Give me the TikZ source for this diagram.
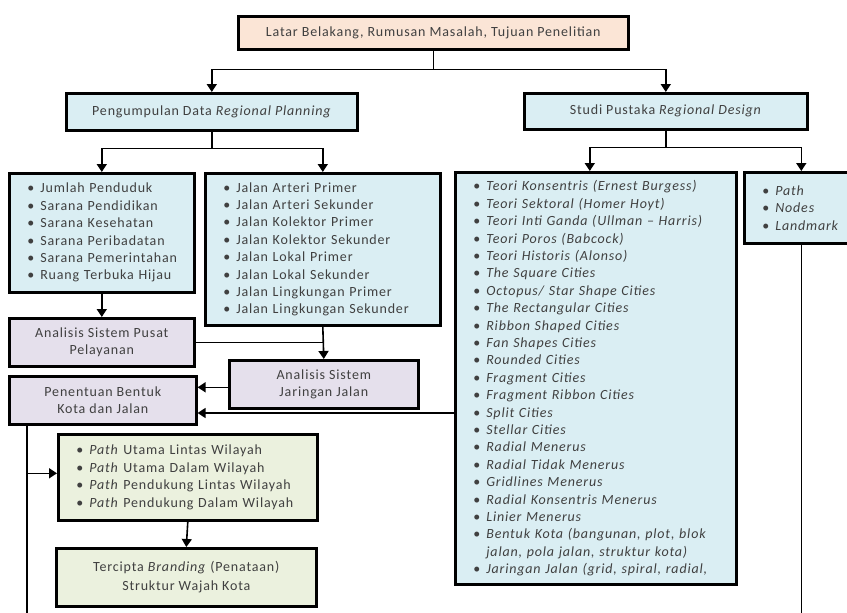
\documentclass[tikz,border=0pt]{standalone}
\usepackage{fontspec}
\setmainfont{Carlito}[LetterSpace=6]
\usetikzlibrary{arrows.meta,calc}
\definecolor{peach}{HTML}{FBE5D6}
\definecolor{lblue}{HTML}{DAEEF3}
\definecolor{lpurple}{HTML}{E5E0EC}
\definecolor{lgreen}{HTML}{EBF1DE}
\definecolor{txt}{HTML}{404040}
\newcommand{\bul}{\makebox[13pt][l]{\textbullet}}
\begin{document}
\begin{tikzpicture}[x=1pt,y=-1pt,
  box/.style={draw=black, line width=2.6pt, text=txt, font=\fontsize{14}{17.4}\selectfont,
    inner sep=0pt, anchor=north west, align=center},
  lst/.style={box, align=left, inner xsep=18pt},
  arr/.style={line width=1.6pt, -{Triangle[width=10pt,length=8pt]}},
  ln/.style={line width=1.6pt}]
\useasboundingbox (0,0) rectangle (847,613);
% boxes
\node[box, fill=peach, minimum width=390pt, minimum height=33pt] (top) at (237,15)
  {Latar Belakang, Rumusan Masalah, Tujuan Penelitian};
\node[box, fill=lblue, minimum width=291pt, minimum height=37pt] (peng) at (65,92)
  {Pengumpulan Data \textit{Regional Planning}};
\node[box, fill=lblue, minimum width=283pt, minimum height=36pt] (studi) at (523,92)
  {Studi Pustaka \textit{Regional Design}};
\node[lst, fill=lblue, minimum width=185pt, minimum height=119pt, text width=149pt] (jumlah) at (8,172)
  {\bul Jumlah Penduduk\\\bul Sarana Pendidikan\\\bul Sarana Kesehatan\\\bul Sarana Peribadatan\\\bul Sarana Pemerintahan\\\bul Ruang Terbuka Hijau};
\node[lst, fill=lblue, minimum width=235pt, minimum height=152pt, text width=199pt] (jalan) at (204,172)
  {\bul Jalan Arteri Primer\\\bul Jalan Arteri Sekunder\\\bul Jalan Kolektor Primer\\\bul Jalan Kolektor Sekunder\\\bul Jalan Lokal Primer\\\bul Jalan Lokal Sekunder\\\bul Jalan Lingkungan Primer\\\bul Jalan Lingkungan Sekunder};
\node[box, fill=lpurple, minimum width=185pt, minimum height=48pt] (pusat) at (8,317)
  {Analisis Sistem Pusat\\Pelayanan};
\node[box, fill=lpurple, minimum width=189pt, minimum height=48pt] (jaringan) at (228,359)
  {Analisis Sistem\\Jaringan Jalan};
\node[box, fill=lpurple, minimum width=187pt, minimum height=48pt] (penentuan) at (8,375)
  {Penentuan Bentuk\\Kota dan Jalan};
\node[lst, fill=lgreen, minimum width=259pt, minimum height=86pt, text width=223pt] (pathbox) at (57,433)
  {\bul\textit{Path} Utama Lintas Wilayah\\\bul\textit{Path} Utama Dalam Wilayah\\\bul\textit{Path} Pendukung Lintas Wilayah\\\bul\textit{Path} Pendukung Dalam Wilayah};
\node[box, fill=lgreen, minimum width=260pt, minimum height=58pt, font=\fontsize{14}{19}\selectfont] (tercipta) at (55,547)
  {Tercipta \textit{Branding} (Penataan)\\Struktur Wajah Kota};
\node[lst, fill=lblue, minimum width=281pt, minimum height=412pt, text width=245pt] (teori) at (454,171)
  {\bul\textit{Teori Konsentris (Ernest Burgess)}\\
   \bul\textit{Teori Sektoral (Homer Hoyt)}\\
   \bul\textit{Teori Inti Ganda (Ullman – Harris)}\\
   \bul\textit{Teori Poros (Babcock)}\\
   \bul\textit{Teori Historis (Alonso)}\\
   \bul\textit{The Square Cities}\\
   \bul\textit{Octopus/ Star Shape Cities}\\
   \bul\textit{The Rectangular Cities}\\
   \bul\textit{Ribbon Shaped Cities}\\
   \bul\textit{Fan Shapes Cities}\\
   \bul\textit{Rounded Cities}\\
   \bul\textit{Fragment Cities}\\
   \bul\textit{Fragment Ribbon Cities}\\
   \bul\textit{Split Cities}\\
   \bul\textit{Stellar Cities}\\
   \bul\textit{Radial Menerus}\\
   \bul\textit{Radial Tidak Menerus}\\
   \bul\textit{Gridlines Menerus}\\
   \bul\textit{Radial Konsentris Menerus}\\
   \bul\textit{Linier Menerus}\\
   \bul\textit{Bentuk Kota (bangunan, plot, blok}\\
   \hspace*{13pt}\textit{jalan, pola jalan, struktur kota)}\\
   \bul\textit{Jaringan Jalan (grid, spiral, radial,}};
\node[lst, fill=lblue, minimum width=107pt, minimum height=71pt, text width=71pt] (pnl) at (743,171)
  {\bul\textit{Path}\\\bul\textit{Nodes}\\\bul\textit{Landmark}};
% connectors
\draw[ln] (top.south) -- ++(0,19) coordinate (j0);
\draw[arr] (j0) -| (peng.north);
\draw[arr] (j0) -| (studi.north);
\draw[ln] (peng.south) -- ++(0,17) coordinate (j1);
\draw[arr] (j1) -| (jumlah.north);
\draw[arr] (j1) -| (jalan.north);
\draw[ln] (studi.south) -- ++(0,17) coordinate (j2);
\draw[arr] (j2) -| ([xshift=-6pt]teori.north);
\draw[arr] (j2) -| ([xshift=3.5pt]pnl.north);
\draw[arr] (jumlah.south) -- (pusat.north);
\draw[arr] (jalan.south) -- (jaringan.north);
\draw[ln] (pusat.east) -- (pusat.east -| jalan.south);
\draw[arr] ([yshift=-3pt]jaringan.west) -- ([yshift=-3pt]jaringan.west -| penentuan.east);
\coordinate (tl) at ($(teori.north west)+(0,242)$);
\draw[arr] (tl) -- (tl -| penentuan.east);
\draw[ln] ([xshift=19pt]penentuan.south west) -- ++(0,190) coordinate (lb);
\coordinate (pw) at ([yshift=4pt]pathbox.west);
\draw[arr] (pw -| lb) -- (pw);
\draw[arr] (pathbox.south) -- (tercipta.north);
\draw[ln] ([xshift=3.5pt]pnl.south) -- ++(0,371) coordinate (rb);
\end{tikzpicture}
\end{document}
